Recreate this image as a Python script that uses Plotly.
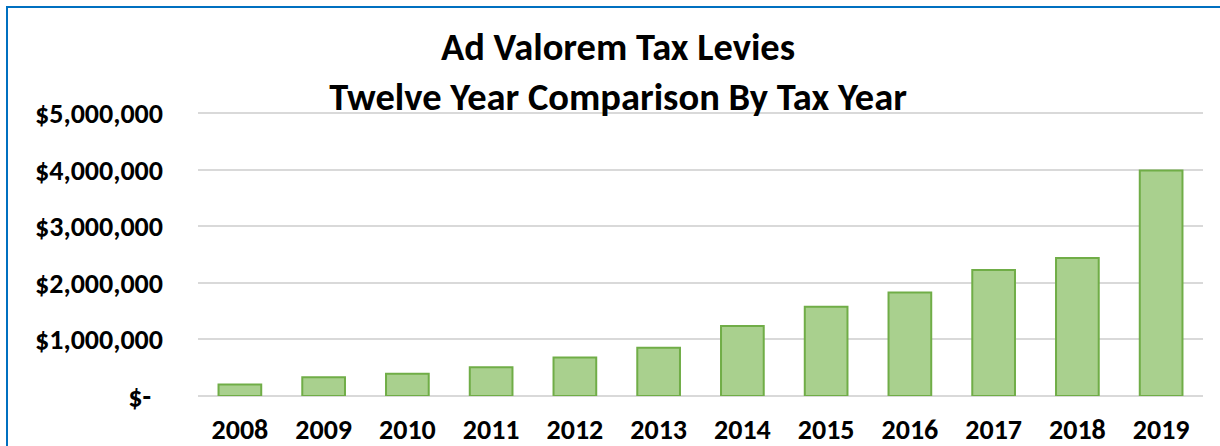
import plotly.graph_objects as go

years = ["2008", "2009", "2010", "2011", "2012", "2013", "2014", "2015", "2016", "2017", "2018", "2019"]
levies = [205000, 330000, 395000, 510000, 680000, 855000, 1240000, 1580000, 1830000, 2230000, 2440000, 3990000]
tick_vals = [0, 1000000, 2000000, 3000000, 4000000, 5000000]
tick_text = ["$-\u00a0\u2009", "$1,000,000", "$2,000,000", "$3,000,000", "$4,000,000", "$5,000,000"]

FONT = "Carlito, Lato"

fig = go.Figure(go.Bar(
    x=years, y=levies,
    marker=dict(color="#A9D08E", line=dict(color="#70AD47", width=2)),
    hoverinfo="x+y",
))

L, R, T, B = 198, 17, 110, 50
W, H = 1220, 446
pw, ph = W - L - R, H - T - B

fig.update_layout(
    width=W, height=H,
    margin=dict(l=L, r=R, t=T, b=B, pad=0),
    paper_bgcolor="white", plot_bgcolor="white",
    bargap=0.49,
    showlegend=False,
    title=dict(
        text="<b>Ad Valorem Tax Levies</b><br><b>Twelve Year Comparison By Tax Year</b>",
        x=618 / W, xanchor="center", xref="container",
        y=1 - 60 / H, yanchor="top", yref="container",
        font=dict(family=FONT, size=38.5, color="black"),
    ),
    xaxis=dict(
        showgrid=False, showline=False, ticks="", automargin=False,
        tickfont=dict(family=FONT, size=28, color="black", weight="bold"),
        ticklabelstandoff=14,
    ),
    yaxis=dict(
        range=[0, 5060000], tickvals=tick_vals, ticktext=tick_text, automargin=False,
        showgrid=True, gridcolor="#D9D9D9", gridwidth=1.5,
        zeroline=True, zerolinecolor="#D9D9D9", zerolinewidth=1.5,
        showline=False, ticks="",
        tickfont=dict(family=FONT, size=28, color="black", weight="bold"),
        ticklabelstandoff=34,
    ),
    shapes=[dict(
        type="rect", xref="paper", yref="paper",
        x0=(7 - L) / pw, x1=(W + 10 - L) / pw,
        y0=-(B + 20) / ph, y1=1 + (T - 7) / ph,
        line=dict(color="#0070C0", width=2), fillcolor="rgba(0,0,0,0)", layer="below",
    )],
)

fig.write_html("out.html")
